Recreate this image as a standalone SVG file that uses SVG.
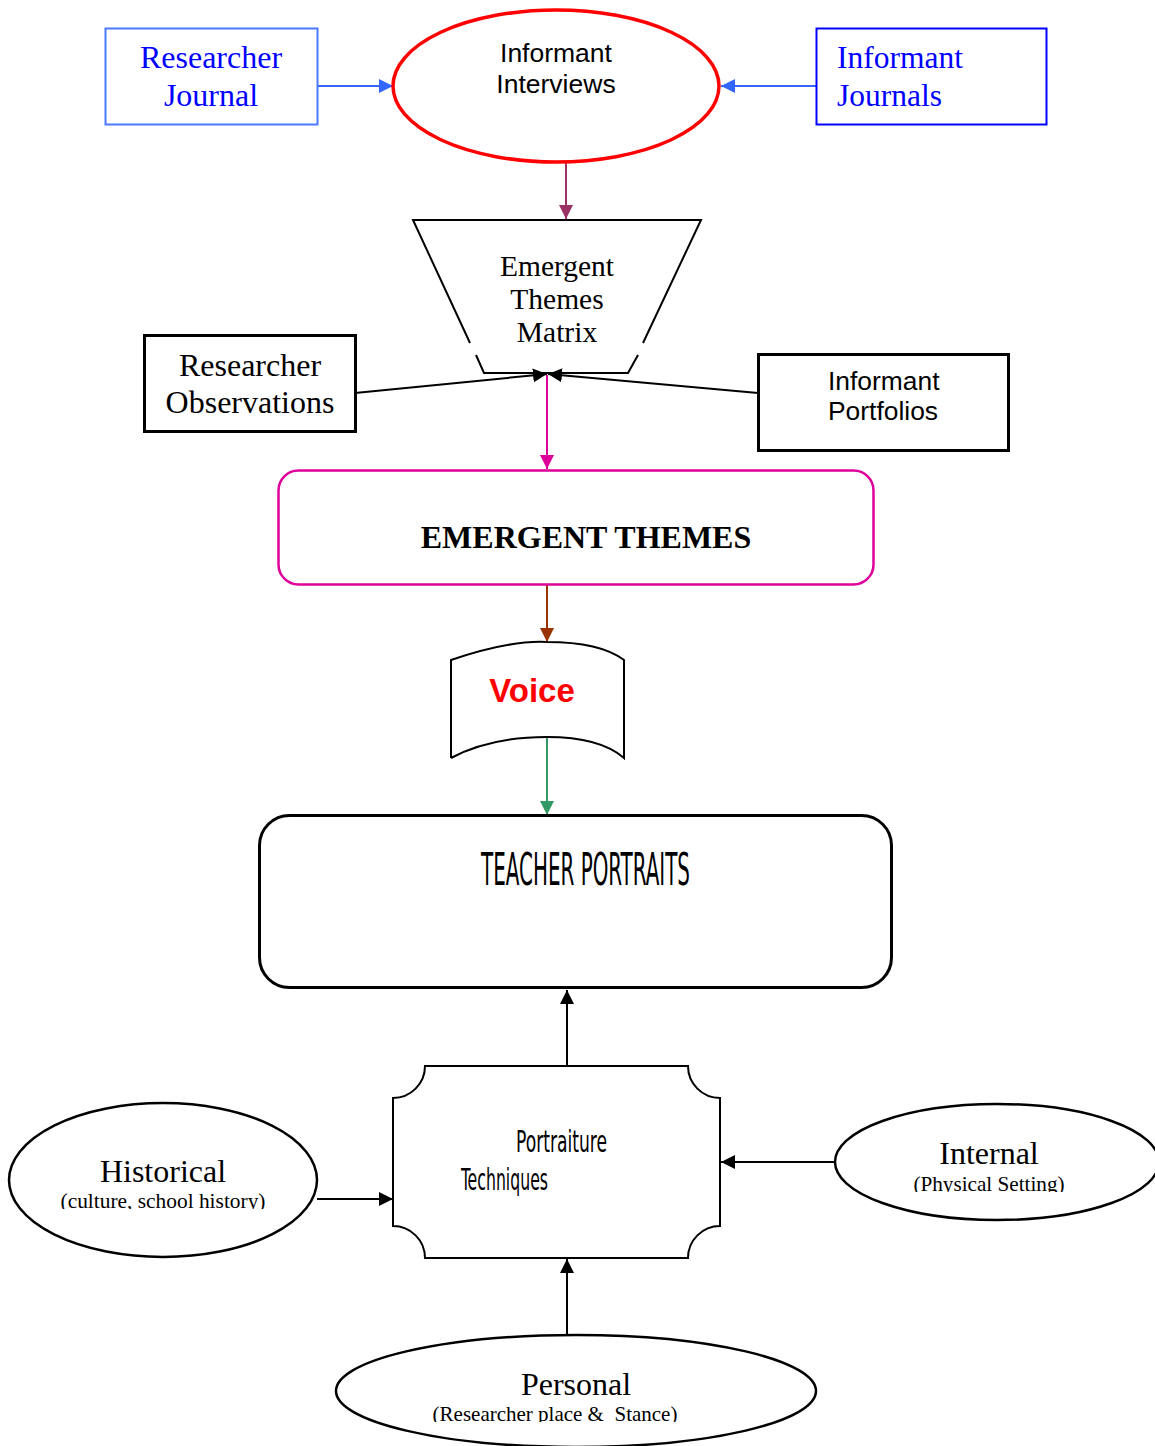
<svg xmlns="http://www.w3.org/2000/svg" width="1155" height="1446" viewBox="0 0 1155 1446">
<style>
.serif{font-family:"Liberation Serif","Times New Roman",serif}
.sans{font-family:"Liberation Sans",Arial,sans-serif}
.cond{font-family:"DejaVu Sans Condensed","Liberation Sans Narrow","Liberation Sans",sans-serif}
.blk{fill:none;stroke:#000}
.conn{fill:none;stroke-width:2}
</style>
<defs>
<marker id="aBlue" markerUnits="userSpaceOnUse" markerWidth="16" markerHeight="14" refX="14" refY="7" orient="auto"><path d="M0,0 L14,7 L0,14 Z" fill="#3366ff"/></marker>
<marker id="aPurp" markerUnits="userSpaceOnUse" markerWidth="16" markerHeight="14" refX="14" refY="7" orient="auto"><path d="M0,0 L14,7 L0,14 Z" fill="#993366"/></marker>
<marker id="aBlack" markerUnits="userSpaceOnUse" markerWidth="16" markerHeight="14" refX="14" refY="7" orient="auto"><path d="M0,0 L14,7 L0,14 Z" fill="#000"/></marker>
<marker id="aMag" markerUnits="userSpaceOnUse" markerWidth="16" markerHeight="14" refX="14" refY="7" orient="auto"><path d="M0,0 L14,7 L0,14 Z" fill="#dd0099"/></marker>
<marker id="aBrown" markerUnits="userSpaceOnUse" markerWidth="16" markerHeight="14" refX="14" refY="7" orient="auto"><path d="M0,0 L14,7 L0,14 Z" fill="#993300"/></marker>
<marker id="aGreen" markerUnits="userSpaceOnUse" markerWidth="16" markerHeight="14" refX="14" refY="7" orient="auto"><path d="M0,0 L14,7 L0,14 Z" fill="#339966"/></marker>
<clipPath id="cHist"><rect x="0" y="1150" width="330" height="59"/></clipPath>
<clipPath id="cInt"><rect x="840" y="1130" width="315" height="62"/></clipPath>
<clipPath id="cPers"><rect x="340" y="1360" width="480" height="62"/></clipPath>
</defs>
<rect width="1155" height="1446" fill="#fff"/>

<g id="connectors">
<line class="conn" x1="317" y1="86" x2="393" y2="86" stroke="#3366ff" marker-end="url(#aBlue)"/>
<line class="conn" x1="816" y1="86" x2="721" y2="86" stroke="#3366ff" marker-end="url(#aBlue)"/>
<line class="conn" x1="566" y1="163" x2="566" y2="219" stroke="#993366" marker-end="url(#aPurp)"/>
<line class="conn" x1="355" y1="393" x2="547" y2="374" stroke="#000" stroke-width="2.5" marker-end="url(#aBlack)"/>
<line class="conn" x1="758" y1="393" x2="548" y2="374" stroke="#000" stroke-width="2.5" marker-end="url(#aBlack)"/>
<line class="conn" x1="547" y1="375" x2="547" y2="469" stroke="#dd0099" marker-end="url(#aMag)"/>
<line class="conn" x1="547" y1="585" x2="547" y2="642" stroke="#993300" marker-end="url(#aBrown)"/>
<line class="conn" x1="547" y1="737" x2="547" y2="815" stroke="#339966" marker-end="url(#aGreen)"/>
<line class="conn" x1="567" y1="1066" x2="567" y2="990" stroke="#000" marker-end="url(#aBlack)"/>
<line class="conn" x1="317" y1="1199" x2="393" y2="1199" stroke="#000" marker-end="url(#aBlack)"/>
<line class="conn" x1="835" y1="1162" x2="721" y2="1162" stroke="#000" marker-end="url(#aBlack)"/>
<line class="conn" x1="567" y1="1335" x2="567" y2="1259" stroke="#000" marker-end="url(#aBlack)"/>
</g>

<g id="researcher-journal">
<rect x="105.5" y="28.5" width="212" height="96" fill="none" stroke="#4a78ff" stroke-width="2"/>
<text class="serif" font-size="32" fill="#0000ff" text-anchor="middle"><tspan x="211" y="68">Researcher</tspan><tspan x="211" y="106">Journal</tspan></text>
</g>

<g id="informant-interviews">
<ellipse cx="556" cy="86" rx="163" ry="76" fill="none" stroke="#ff0000" stroke-width="3.5"/>
<text class="sans" font-size="26.5" fill="#000" text-anchor="middle"><tspan x="556" y="62">Informant</tspan><tspan x="556" y="93">Interviews</tspan></text>
</g>

<g id="informant-journals">
<rect x="816.5" y="28.5" width="230" height="96" fill="none" stroke="#0000ff" stroke-width="2"/>
<text class="serif" font-size="31.5" fill="#0000ff"><tspan x="837" y="68">Informant</tspan><tspan x="837" y="106">Journals</tspan></text>
</g>

<g id="emergent-themes-matrix">
<path class="blk" stroke-width="2" d="M470,343 L413,220 L701,220 L643,343"/>
<path class="blk" stroke-width="2" d="M476,355 L484,373 L628,373 L638,355"/>
<text class="serif" font-size="29.5" fill="#000" text-anchor="middle"><tspan x="557" y="276">Emergent</tspan><tspan x="557" y="309">Themes</tspan><tspan x="557" y="342">Matrix</tspan></text>
</g>

<g id="researcher-observations">
<rect x="144.5" y="335.5" width="211" height="96" fill="none" stroke="#000" stroke-width="3"/>
<text class="serif" font-size="32" fill="#000" text-anchor="middle"><tspan x="250" y="376">Researcher</tspan><tspan x="250" y="413">Observations</tspan></text>
</g>

<g id="informant-portfolios">
<rect x="758.5" y="354.5" width="250" height="96" fill="none" stroke="#000" stroke-width="3"/>
<text class="sans" font-size="26.4" fill="#000"><tspan x="828" y="390">Informant</tspan><tspan x="828" y="420">Portfolios</tspan></text>
</g>

<g id="emergent-themes">
<rect x="278.5" y="470.5" width="595" height="114" rx="20" fill="none" stroke="#dd0099" stroke-width="2.5"/>
<text class="serif" font-size="32" font-weight="bold" fill="#000" text-anchor="middle" x="586" y="548">EMERGENT THEMES</text>
</g>

<g id="voice">
<path class="blk" stroke-width="2" d="M451,758 L451,660 Q510,640 547,642 Q600,642 624,660 L624,758 Q600,737 547,737 Q490,737 451,758"/>
<text class="sans" font-size="33" font-weight="bold" fill="#ff0000" text-anchor="middle" x="532" y="702">Voice</text>
</g>

<g id="teacher-portraits">
<rect x="259.5" y="815.5" width="632" height="172" rx="30" fill="none" stroke="#000" stroke-width="3"/>
<text class="cond" font-size="44" fill="#000" x="481" y="885" textLength="209" lengthAdjust="spacingAndGlyphs">TEACHER PORTRAITS</text>
</g>

<g id="portraiture-techniques">
<path class="blk" stroke-width="2" d="M425,1066 L688,1066 A32,32 0 0 0 720,1098 L720,1226 A32,32 0 0 0 688,1258 L425,1258 A32,32 0 0 0 393,1226 L393,1098 A32,32 0 0 0 425,1066 Z"/>
<text class="cond" font-size="30" fill="#000" x="516" y="1152" textLength="91" lengthAdjust="spacingAndGlyphs">Portraiture</text>
<text class="cond" font-size="30" fill="#000" x="461" y="1190" textLength="87" lengthAdjust="spacingAndGlyphs">Techniques</text>
</g>

<g id="historical">
<ellipse cx="163" cy="1180" rx="154" ry="77" fill="none" stroke="#000" stroke-width="2.5"/>
<text class="serif" font-size="32" fill="#000" text-anchor="middle" x="163" y="1182">Historical</text>
<text class="serif" font-size="21.4" fill="#000" text-anchor="middle" x="163" y="1208" clip-path="url(#cHist)">(culture, school history)</text>
</g>

<g id="internal">
<ellipse cx="997" cy="1162" rx="162" ry="58" fill="none" stroke="#000" stroke-width="2.5"/>
<text class="serif" font-size="32" fill="#000" text-anchor="middle" x="989" y="1164">Internal</text>
<text class="serif" font-size="21.2" fill="#000" text-anchor="middle" x="989" y="1191" clip-path="url(#cInt)">(Physical Setting)</text>
</g>

<g id="personal">
<ellipse cx="576" cy="1391" rx="240" ry="56" fill="none" stroke="#000" stroke-width="2.5"/>
<text class="serif" font-size="32" fill="#000" text-anchor="middle" x="576" y="1395">Personal</text>
<text class="serif" font-size="21" fill="#000" text-anchor="middle" x="555" y="1421" xml:space="preserve" clip-path="url(#cPers)">(Researcher place &amp;  Stance)</text>
</g>
</svg>
